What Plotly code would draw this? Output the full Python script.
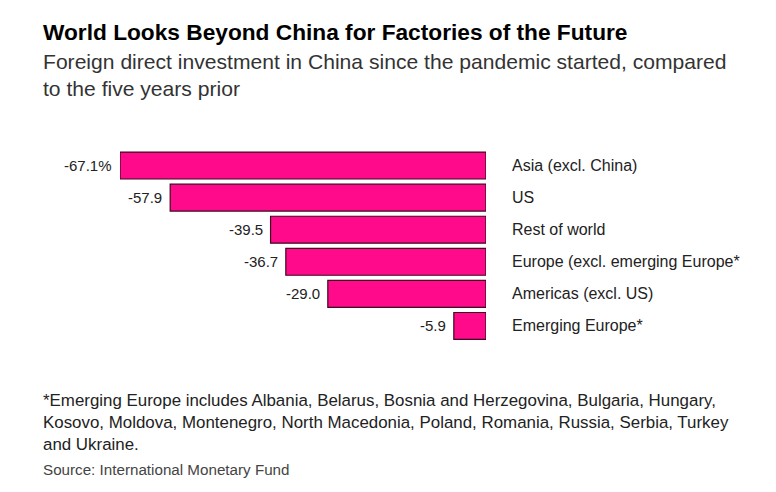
import plotly.graph_objects as go

categories = ["Asia (excl. China)", "US", "Rest of world", "Europe (excl. emerging Europe*",
              "Americas (excl. US)", "Emerging Europe*"]
values = [-67.1, -57.9, -39.5, -36.7, -29.0, -5.9]
value_labels = ["-67.1%", "-57.9", "-39.5", "-36.7", "-29.0", "-5.9"]

W, H = 776, 492
FILL = "#ff0a8a"
EDGE = "#3d0a1f"
FONT = "Liberation Sans, Arial, sans-serif"

fig = go.Figure()
fig.add_trace(go.Bar(
    x=values, y=categories, orientation="h",
    marker=dict(color=FILL, line=dict(color=EDGE, width=1.2)),
    width=0.84, hoverinfo="skip",
))

ann = []
for c, v, lab in zip(categories, values, value_labels):
    ann.append(dict(x=v, y=c, xref="x", yref="y", text=lab, showarrow=False,
                    xanchor="right", yanchor="middle", xshift=-6,
                    font=dict(family=FONT, size=15, color="#222")))
    ann.append(dict(x=0, y=c, xref="x", yref="y", text=c, showarrow=False,
                    xanchor="left", yanchor="middle", xshift=24,
                    font=dict(family=FONT, size=16, color="#222")))

def px(x):
    return x / W

def py(y):
    return 1 - y / H

ann.append(dict(x=px(41), y=py(17), xref="paper", yref="paper", xanchor="left", yanchor="top",
                text="<b>World Looks Beyond China for Factories of the Future</b>", showarrow=False,
                font=dict(family=FONT, size=22.7, color="#000")))
ann.append(dict(x=px(41), y=py(48), xref="paper", yref="paper", xanchor="left", yanchor="top",
                align="left",
                text="Foreign direct investment in China since the pandemic started, compared<br>to the five years prior",
                showarrow=False, font=dict(family=FONT, size=21.1, color="#333")))
ann.append(dict(x=px(41), y=py(389), xref="paper", yref="paper", xanchor="left", yanchor="top",
                align="left",
                text="*Emerging Europe includes Albania, Belarus, Bosnia and Herzegovina, Bulgaria, Hungary,<br>"
                     "Kosovo, Moldova, Montenegro, North Macedonia, Poland, Romania, Russia, Serbia, Turkey<br>"
                     "and Ukraine.",
                showarrow=False, font=dict(family=FONT, size=16.9, color="#222")))
ann.append(dict(x=px(41), y=py(459), xref="paper", yref="paper", xanchor="left", yanchor="top",
                text="Source: International Monetary Fund", showarrow=False,
                font=dict(family=FONT, size=15.2, color="#444")))

fig.update_layout(
    width=W, height=H,
    margin=dict(l=0, r=0, t=0, b=0),
    paper_bgcolor="white", plot_bgcolor="white",
    showlegend=False,
    xaxis=dict(range=[-67.1, 0], domain=[px(120), px(486)], visible=False, fixedrange=True),
    yaxis=dict(categoryorder="array", categoryarray=categories, autorange=False,
               range=[5.5, -0.5], domain=[py(342), py(149.5)], visible=False, fixedrange=True),
    annotations=ann,
)

fig.write_html("out.html", config={"displayModeBar": False})
